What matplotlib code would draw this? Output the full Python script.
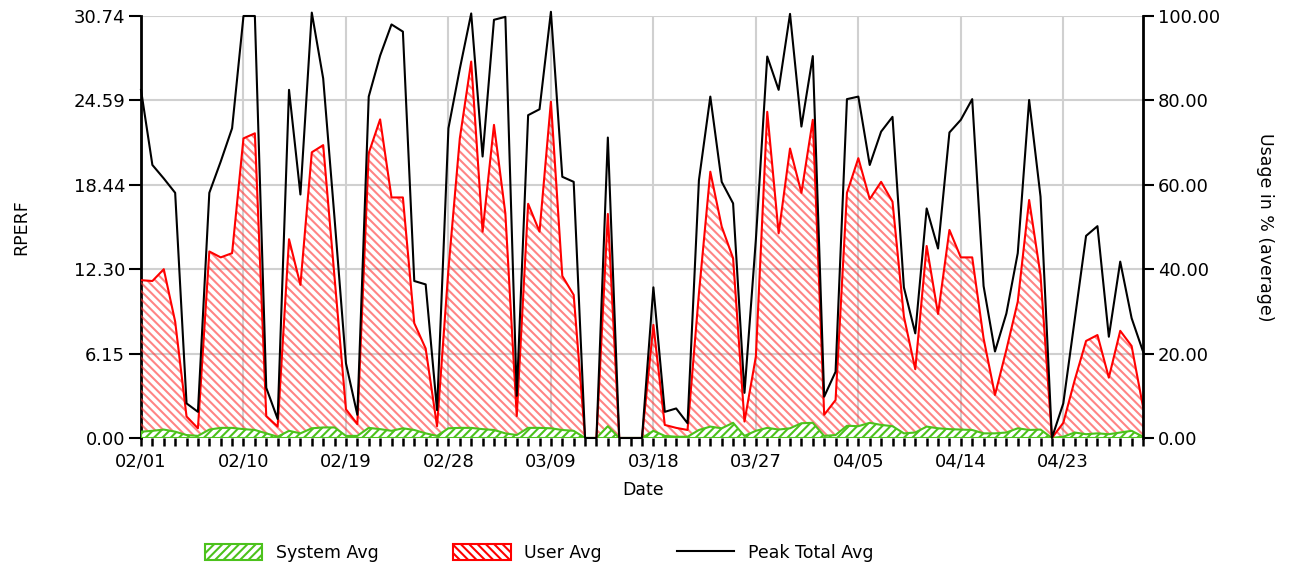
import matplotlib
matplotlib.use("Agg")
import matplotlib.pyplot as plt
import matplotlib.dates as mdates
from matplotlib.patches import Patch
from matplotlib.lines import Line2D
import pandas as pd
import numpy as np

dates = pd.date_range("2023-02-01", "2023-04-30", freq="D")

peak_total = [82.5, 64.7, 61.5, 58.1, 8.2, 6.2, 58.1, 65.5, 73.4, 100.0,
              100.0, 11.9, 4.5, 82.5, 57.7, 100.8, 85.2, 52.0, 17.7, 5.5,
              80.9, 90.6, 98.0, 96.3, 37.2, 36.4, 6.6, 73.4, 87.5, 100.6,
              66.7, 99.1, 99.8, 10.0, 76.5, 77.9, 101.0, 61.9, 60.7, 0.0,
              0.0, 71.2, 0.0, 0.0, 0.0, 35.7, 6.2, 7.0, 3.5, 61.1,
              80.9, 60.7, 55.6, 10.7, 47.0, 90.4, 82.5, 100.5, 73.8, 90.5,
              9.8, 15.7, 80.3, 80.9, 64.7, 72.6, 76.1, 35.7, 24.8, 54.4,
              44.9, 72.4, 75.4, 80.3, 36.0, 20.5, 29.5, 43.8, 80.1, 57.2,
              0.0, 8.2, 28.0, 47.9, 50.2, 24.0, 41.8, 28.4, 20.5]

user_avg = [37.4, 37.2, 40.0, 27.6, 5.1, 2.3, 44.2, 42.8, 43.8, 71.0,
            72.2, 5.2, 2.7, 47.1, 36.3, 67.7, 69.4, 38.0, 6.8, 3.3,
            67.5, 75.5, 57.0, 57.0, 27.2, 21.2, 2.8, 40.0, 71.0, 89.2,
            48.9, 74.2, 53.2, 5.2, 55.5, 48.9, 79.7, 38.4, 33.9, 0.0,
            0.0, 53.1, 0.0, 0.0, 0.0, 26.8, 3.1, 2.4, 1.9, 34.3,
            63.1, 50.1, 42.6, 3.9, 19.3, 77.3, 48.5, 68.6, 58.1, 75.4,
            5.5, 9.0, 58.1, 66.3, 56.6, 60.7, 56.0, 28.8, 16.3, 45.5,
            29.4, 49.3, 42.8, 42.8, 23.6, 10.2, 20.9, 32.3, 56.4, 38.6,
            0.0, 3.6, 13.7, 23.0, 24.4, 14.3, 25.4, 21.8, 7.4]

system_avg = [1.5, 1.7, 2.0, 1.5, 0.7, 0.5, 2.0, 2.4, 2.4, 2.1,
              1.9, 1.1, 0.3, 1.7, 1.1, 2.3, 2.5, 2.5, 0.5, 0.5,
              2.4, 2.1, 1.7, 2.3, 1.9, 1.1, 0.5, 2.3, 2.4, 2.4,
              2.1, 1.9, 1.1, 0.7, 2.4, 2.4, 2.3, 1.9, 1.7, 0.0,
              0.0, 2.8, 0.0, 0.0, 0.0, 1.7, 0.5, 0.3, 0.3, 1.9,
              2.7, 2.3, 3.6, 0.5, 1.7, 2.4, 2.0, 2.3, 3.5, 3.6,
              0.5, 0.7, 2.9, 2.8, 3.6, 3.1, 2.8, 1.1, 1.3, 2.7,
              2.3, 2.1, 2.0, 1.9, 1.1, 1.1, 1.3, 2.3, 1.9, 2.0,
              0.0, 0.3, 1.3, 0.9, 1.1, 0.9, 1.3, 1.7, 0.3]

rperf_max = 30.74
left_ticks = [0.00, 6.15, 12.30, 18.44, 24.59, 30.74]
right_ticks = [0, 20, 40, 60, 80, 100]
labels = ["System Avg", "User Avg", "Peak Total Avg"]

RED = "#ff0000"
GREEN = "#4cc21c"
RED_HATCH = "\\\\\\\\"
GREEN_HATCH = "////"

plt.rcParams["font.family"] = ["DejaVu Sans"]
plt.rcParams["hatch.linewidth"] = 1.5

fig = plt.figure(figsize=(12.9, 5.67), dpi=100)
ax = fig.add_axes([141 / 1290, 1 - 438 / 567, 1002 / 1290, 422 / 567])
ax2 = ax.twinx()

x = mdates.date2num(dates)

# left axis (RPERF)
ax.set_ylim(0, rperf_max)
ax.set_yticks(left_ticks)
ax.set_yticklabels([f"{v:.2f}" for v in left_ticks])
ax.set_xlim(x[0], x[-1])
ax.set_xticks(x[::9])
ax.set_xticks(x, minor=True)
ax.xaxis.set_major_formatter(mdates.DateFormatter("%m/%d"))
ax.grid(True, which="major", color="#d0d0d0", linewidth=1.5)
ax.set_axisbelow(True)

# right axis (usage %)
ax2.set_ylim(0, 100)
ax2.set_yticks(right_ticks)
ax2.set_yticklabels([f"{v:.2f}" for v in right_ticks])

for a in (ax, ax2):
    a.spines["top"].set_visible(False)
    a.spines["bottom"].set_visible(False)
ax.spines["right"].set_visible(False)
ax2.spines["left"].set_visible(False)
ax.spines["left"].set_linewidth(2)
ax2.spines["right"].set_linewidth(2)

ax.tick_params(axis="y", direction="out", length=9, width=1.5, pad=2.5, labelsize=13)
ax2.tick_params(axis="y", direction="out", length=8, width=1.5, pad=2.5, labelsize=13)
ax.tick_params(axis="x", which="both", direction="out", length=5.5, width=1.8,
               pad=5, labelsize=13)

# data
ax2.fill_between(x, 0, user_avg, facecolor="none", edgecolor=(1, 0.2, 0.2, 0.6),
                 hatch=RED_HATCH, linewidth=0)
ax2.plot(x, user_avg, color=RED, linewidth=1.5)
ax2.fill_between(x, 0, system_avg, facecolor="white", edgecolor=GREEN,
                 hatch=GREEN_HATCH, linewidth=1.5)
ax2.plot(x, peak_total, color="black", linewidth=1.5, clip_on=False)

fig.text(21 / 1290, 1 - 227 / 567, "RPERF", rotation=90, ha="center", va="center",
         fontsize=12.5)
fig.text(1265 / 1290, 1 - 227 / 567, "Usage in % (average)", rotation=-90,
         ha="center", va="center", fontsize=12.5)
fig.text(643 / 1290, 1 - 490 / 567, "Date", ha="center", va="center", fontsize=12.5)

handles = [
    Patch(facecolor="white", edgecolor=GREEN, hatch=GREEN_HATCH, linewidth=1.5),
    Patch(facecolor="white", edgecolor=RED, hatch=RED_HATCH, linewidth=1.5),
    Line2D([0], [0], color="black", linewidth=1.5),
]
fig.legend(handles, labels, loc="center", bbox_to_anchor=(539 / 1290, 1 - 553 / 567),
           ncol=3, frameon=False, handlelength=3.3, handleheight=1.0,
           handletextpad=0.8, columnspacing=4.3, fontsize=12.5)

fig.savefig("out.png", dpi=100)
